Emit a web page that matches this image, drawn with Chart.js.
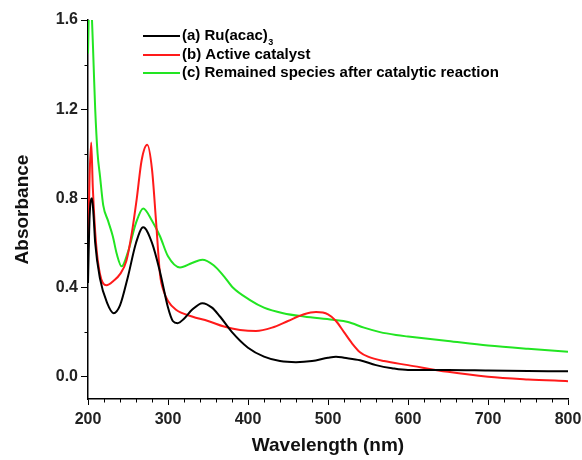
<!DOCTYPE html>
<html lang="en">
<head>
    <meta charset="UTF-8" />
    <title>UV-Vis Spectra</title>
    <script src="https://cdn.jsdelivr.net/npm/chart.js"></script>
    <style>
        html, body {
            margin: 0;
            padding: 0;
            background: #ffffff;
        }
        #wrap {
            width: 582px;
            height: 460px;
        }
    </style>
</head>
<body>
    <div id="wrap"><canvas id="spectra"></canvas></div>

    <script>
        // series labels
        const seriesLabels = [
            "(a) Ru(acac)\u2083",
            "(b) Active catalyst",
            "(c) Remained species after catalytic reaction"
        ];
        const seriesColors = ["#000000", "#ff1a1a", "#22e522"];

        // (a) Ru(acac)3
        const wlA = [200, 202, 205, 207, 209, 215, 224, 232, 240, 250, 260, 269, 280, 290, 300, 306, 312, 320, 330, 343, 355, 365, 380, 400, 420, 440, 460, 480, 500, 510, 520, 540, 560, 580, 600, 650, 700, 750, 800];
        const absA = [0.42, 0.72, 0.80, 0.72, 0.60, 0.44, 0.33, 0.285, 0.32, 0.45, 0.60, 0.67, 0.60, 0.47, 0.31, 0.25, 0.24, 0.26, 0.30, 0.33, 0.31, 0.27, 0.20, 0.13, 0.09, 0.07, 0.065, 0.07, 0.085, 0.09, 0.085, 0.074, 0.052, 0.038, 0.03, 0.03, 0.028, 0.026, 0.024];

        // (b) Active catalyst
        const wlB = [200, 202, 204, 206, 210, 215, 223, 232, 240, 248, 255, 261, 267, 274, 280, 285, 290, 295, 300, 310, 330, 350, 370, 390, 410, 430, 450, 470, 485, 500, 510, 520, 530, 540, 550, 570, 600, 650, 700, 750, 800];
        const absB = [0.56, 0.90, 1.05, 0.85, 0.60, 0.46, 0.41, 0.43, 0.46, 0.52, 0.65, 0.80, 0.97, 1.04, 0.93, 0.70, 0.46, 0.38, 0.34, 0.30, 0.27, 0.25, 0.225, 0.21, 0.205, 0.22, 0.25, 0.28, 0.29, 0.28, 0.25, 0.20, 0.15, 0.11, 0.09, 0.07, 0.052, 0.022, 0.0, -0.012, -0.02];

        // (c) Remained species after catalytic reaction
        const wlC = [200, 202, 205, 207, 209, 212, 215, 219, 225, 231, 236, 242, 250, 260, 269, 280, 290, 300, 315, 330, 343, 357, 370, 381, 402, 420, 444, 470, 506, 525, 545, 565, 585, 600, 650, 700, 750, 800];
        const absC = [1.45, 1.75, 1.60, 1.40, 1.20, 1.00, 0.90, 0.77, 0.70, 0.63, 0.55, 0.495, 0.56, 0.69, 0.755, 0.70, 0.63, 0.54, 0.49, 0.51, 0.525, 0.50, 0.45, 0.40, 0.345, 0.31, 0.285, 0.27, 0.255, 0.245, 0.22, 0.20, 0.187, 0.18, 0.16, 0.14, 0.125, 0.112];

        const xTicks = [200, 300, 400, 500, 600, 700, 800];
        const yTicks = [0.0, 0.4, 0.8, 1.2, 1.6];

        function toPoints(xs, ys) {
            return xs.map((x, i) => ({ x: x, y: ys[i] }));
        }

        // minor ticks (every 20 nm / 0.2 abs) drawn with the scales
        const minorTicks = {
            id: "minorTicks",
            afterDraw(chart) {
                const ctx = chart.ctx;
                const xs = chart.scales.x;
                const ys = chart.scales.y;
                const area = chart.chartArea;
                ctx.save();
                ctx.strokeStyle = "#000";
                ctx.lineWidth = 1;
                for (let v = 220; v < 800; v += 20) {
                    if (v % 100 === 0) continue;
                    const px = Math.round(xs.getPixelForValue(v)) + 0.5;
                    ctx.beginPath();
                    ctx.moveTo(px, area.bottom);
                    ctx.lineTo(px, area.bottom + 3.5);
                    ctx.stroke();
                }
                for (let v = 0.2; v < 1.6; v += 0.4) {
                    const py = Math.round(ys.getPixelForValue(v)) + 0.5;
                    ctx.beginPath();
                    ctx.moveTo(area.left, py);
                    ctx.lineTo(area.left - 3.5, py);
                    ctx.stroke();
                }
                ctx.restore();
            }
        };

        // legend inside the plot, with subscript handling
        const insideLegend = {
            id: "insideLegend",
            afterDraw(chart) {
                const ctx = chart.ctx;
                const rows = [36, 55, 73];
                ctx.save();
                chart.data.datasets.forEach((ds, i) => {
                    const y = rows[i];
                    ctx.strokeStyle = ds.borderColor;
                    ctx.lineWidth = 2;
                    ctx.beginPath();
                    ctx.moveTo(143, y);
                    ctx.lineTo(180, y);
                    ctx.stroke();

                    ctx.fillStyle = "#000";
                    ctx.textBaseline = "middle";
                    let x = 182;
                    const parts = ds.label.split("\u2083");
                    ctx.font = "bold 15px Arial, 'Liberation Sans', sans-serif";
                    ctx.fillText(parts[0], x, y);
                    if (parts.length > 1) {
                        x += ctx.measureText(parts[0]).width;
                        ctx.font = "bold 9px Arial, 'Liberation Sans', sans-serif";
                        ctx.fillText("3", x + 0.5, y + 7);
                    }
                });
                ctx.restore();
            }
        };

        const fontFamily = "Arial, 'Liberation Sans', sans-serif";

        new Chart(document.getElementById("spectra"), {
            type: "line",
            data: {
                datasets: [
                    { label: seriesLabels[0], data: toPoints(wlA, absA), borderColor: seriesColors[0] },
                    { label: seriesLabels[1], data: toPoints(wlB, absB), borderColor: seriesColors[1] },
                    { label: seriesLabels[2], data: toPoints(wlC, absC), borderColor: seriesColors[2] }
                ]
            },
            options: {
                responsive: true,
                maintainAspectRatio: false,
                animation: false,
                layout: { padding: { top: 20, right: 14, left: 0, bottom: 0 } },
                elements: {
                    point: { radius: 0 },
                    line: { borderWidth: 2, cubicInterpolationMode: "monotone", fill: false }
                },
                plugins: {
                    legend: { display: false },
                    tooltip: { enabled: false }
                },
                scales: {
                    x: {
                        type: "linear",
                        min: 200,
                        max: 800,
                        afterBuildTicks: (scale) => { scale.ticks = xTicks.map(v => ({ value: v })); },
                        afterFit: (scale) => {
                            scale.height = 61;
                            scale.paddingRight = 0;
                            scale.paddingLeft = 0;
                        },
                        border: { display: true, color: "#000", width: 1.5 },
                        grid: { drawOnChartArea: false, drawTicks: true, tickLength: 6, color: "#000", tickWidth: 1 },
                        ticks: {
                            color: "#222",
                            padding: 5,
                            font: { family: fontFamily, size: 16, weight: "bold" },
                            maxRotation: 0
                        },
                        title: {
                            display: true,
                            text: "Wavelength (nm)",
                            color: "#111",
                            font: { family: fontFamily, size: 19, weight: "bold" },
                            padding: { top: 4, bottom: 3 }
                        }
                    },
                    y: {
                        type: "linear",
                        min: -0.1,
                        max: 1.6,
                        afterBuildTicks: (scale) => { scale.ticks = yTicks.map(v => ({ value: v })); },
                        afterFit: (scale) => {
                            scale.width = 88;
                            scale.paddingTop = 0;
                            scale.paddingBottom = 0;
                        },
                        border: { display: true, color: "#000", width: 1.5 },
                        grid: { drawOnChartArea: false, drawTicks: true, tickLength: 7, color: "#000", tickWidth: 1 },
                        ticks: {
                            color: "#222",
                            padding: 3,
                            font: { family: fontFamily, size: 16, weight: "bold" },
                            callback: (v) => v.toFixed(1)
                        },
                        title: {
                            display: true,
                            text: "Absorbance",
                            color: "#111",
                            font: { family: fontFamily, size: 19, weight: "bold" },
                            padding: { top: 11, bottom: 0 }
                        }
                    }
                }
            },
            plugins: [minorTicks, insideLegend]
        });
    </script>
</body>
</html>
